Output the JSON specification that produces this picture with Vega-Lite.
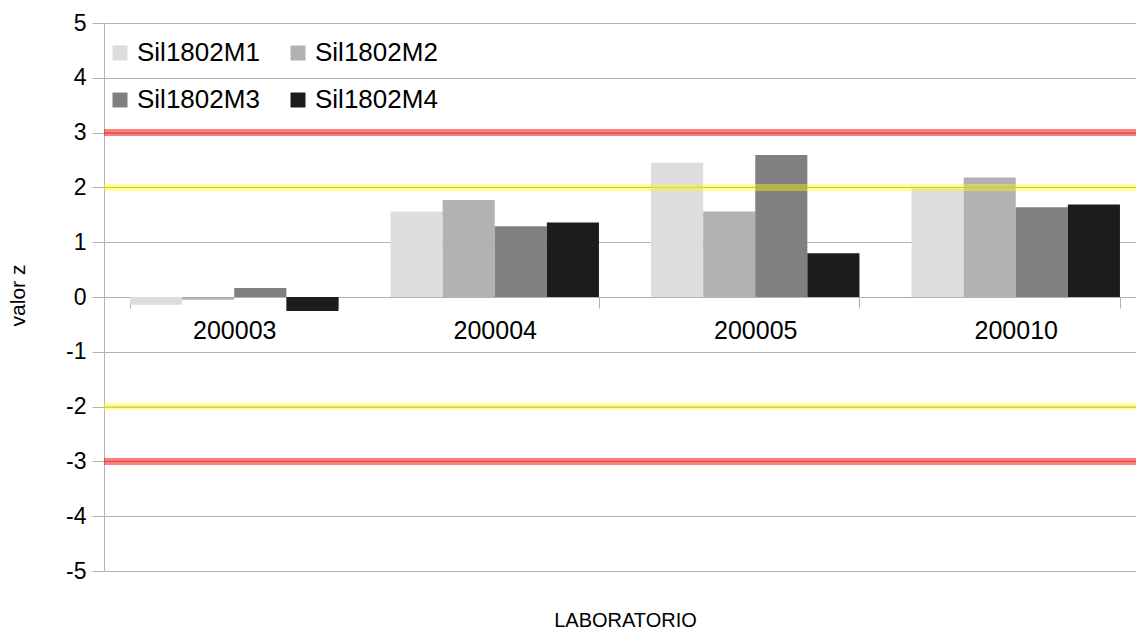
{
  "$schema": "https://vega.github.io/schema/vega-lite/v6.json",
  "width": 1032,
  "height": 548,
  "autosize": {"type": "none"},
  "padding": {"left": 104, "top": 23, "right": 0, "bottom": 59},
  "background": "white",
  "config": {
    "font": "Liberation Sans",
    "view": {"stroke": null},
    "axis": {"labelColor": "black", "titleColor": "black", "titleFontWeight": "normal", "domainColor": "#b3b3b3", "tickColor": "#b3b3b3", "gridColor": "#b3b3b3", "domainWidth": 1, "tickWidth": 1, "gridWidth": 1}
  },
  "layer": [
    {
      "data": {
        "values": [
          {"lab": "200003", "serie": "Sil1802M1", "z": -0.14},
          {"lab": "200003", "serie": "Sil1802M2", "z": -0.05},
          {"lab": "200003", "serie": "Sil1802M3", "z": 0.165},
          {"lab": "200003", "serie": "Sil1802M4", "z": -0.255},
          {"lab": "200004", "serie": "Sil1802M1", "z": 1.56},
          {"lab": "200004", "serie": "Sil1802M2", "z": 1.77},
          {"lab": "200004", "serie": "Sil1802M3", "z": 1.29},
          {"lab": "200004", "serie": "Sil1802M4", "z": 1.36},
          {"lab": "200005", "serie": "Sil1802M1", "z": 2.45},
          {"lab": "200005", "serie": "Sil1802M2", "z": 1.56},
          {"lab": "200005", "serie": "Sil1802M3", "z": 2.59},
          {"lab": "200005", "serie": "Sil1802M4", "z": 0.8},
          {"lab": "200010", "serie": "Sil1802M1", "z": 1.98},
          {"lab": "200010", "serie": "Sil1802M2", "z": 2.18},
          {"lab": "200010", "serie": "Sil1802M3", "z": 1.64},
          {"lab": "200010", "serie": "Sil1802M4", "z": 1.69}
        ]
      },
      "mark": {"type": "bar"},
      "encoding": {
        "x": {
          "field": "lab", "type": "nominal",
          "scale": {"range": [0, 1042], "paddingInner": 0.2, "paddingOuter": 0.1},
          "axis": {
            "grid": false, "labelAngle": 0, "labelFontSize": 25, "labelPadding": 10,
            "tickSize": 11, "tickBand": "extent", "offset": -274,
            "title": "LABORATORIO", "titleFontSize": 20, "titleY": 323, "titleBaseline": "middle"
          }
        },
        "xOffset": {"field": "serie", "type": "nominal", "scale": {"paddingInner": 0, "paddingOuter": 0}},
        "y": {
          "field": "z", "type": "quantitative", "title": "valor z",
          "scale": {"domain": [-5, 5], "nice": false},
          "axis": {
            "values": [-5, -4, -3, -2, -1, 0, 1, 2, 3, 4, 5],
            "labelExpr": "'' + datum.value",
            "labelFontSize": 23, "labelPadding": 6, "tickSize": 12,
            "titleFontSize": 21, "titleX": -86, "titleY": 272, "titleAngle": 270, "titleBaseline": "middle", "titleAlign": "center"
          }
        },
        "color": {
          "field": "serie", "type": "nominal",
          "scale": {"range": ["#dddddd", "#b2b2b2", "#808080", "#1c1c1c"]},
          "legend": {
            "title": null, "orient": "none", "legendX": 3, "legendY": 17, "columns": 2, "direction": "horizontal",
            "symbolType": "square", "symbolSize": 225, "symbolStrokeWidth": 0,
            "labelFontSize": 26, "labelOffset": 4, "rowPadding": 21, "columnPadding": 25, "padding": 0, "labelColor": "black"
          }
        }
      }
    },
    {
      "data": {"values": [{"v": 3}, {"v": -3}]},
      "mark": {"type": "rule", "color": "#ff0000", "strokeWidth": 7, "opacity": 0.5},
      "encoding": {"y": {"field": "v", "type": "quantitative", "title": "valor z"}}
    },
    {
      "data": {"values": [{"v": 3}, {"v": -3}]},
      "mark": {"type": "rule", "color": "#c04040", "strokeWidth": 1, "opacity": 0.5},
      "encoding": {"y": {"field": "v", "type": "quantitative", "title": "valor z"}}
    },
    {
      "data": {"values": [{"v": 2}, {"v": -2}]},
      "mark": {"type": "rule", "color": "#ffff00", "strokeWidth": 7, "opacity": 0.42},
      "encoding": {"y": {"field": "v", "type": "quantitative", "title": "valor z"}}
    },
    {
      "data": {"values": [{"v": 2}, {"v": -2}]},
      "mark": {"type": "rule", "color": "#b0b040", "strokeWidth": 1, "opacity": 0.4},
      "encoding": {"y": {"field": "v", "type": "quantitative", "title": "valor z"}}
    }
  ]
}
